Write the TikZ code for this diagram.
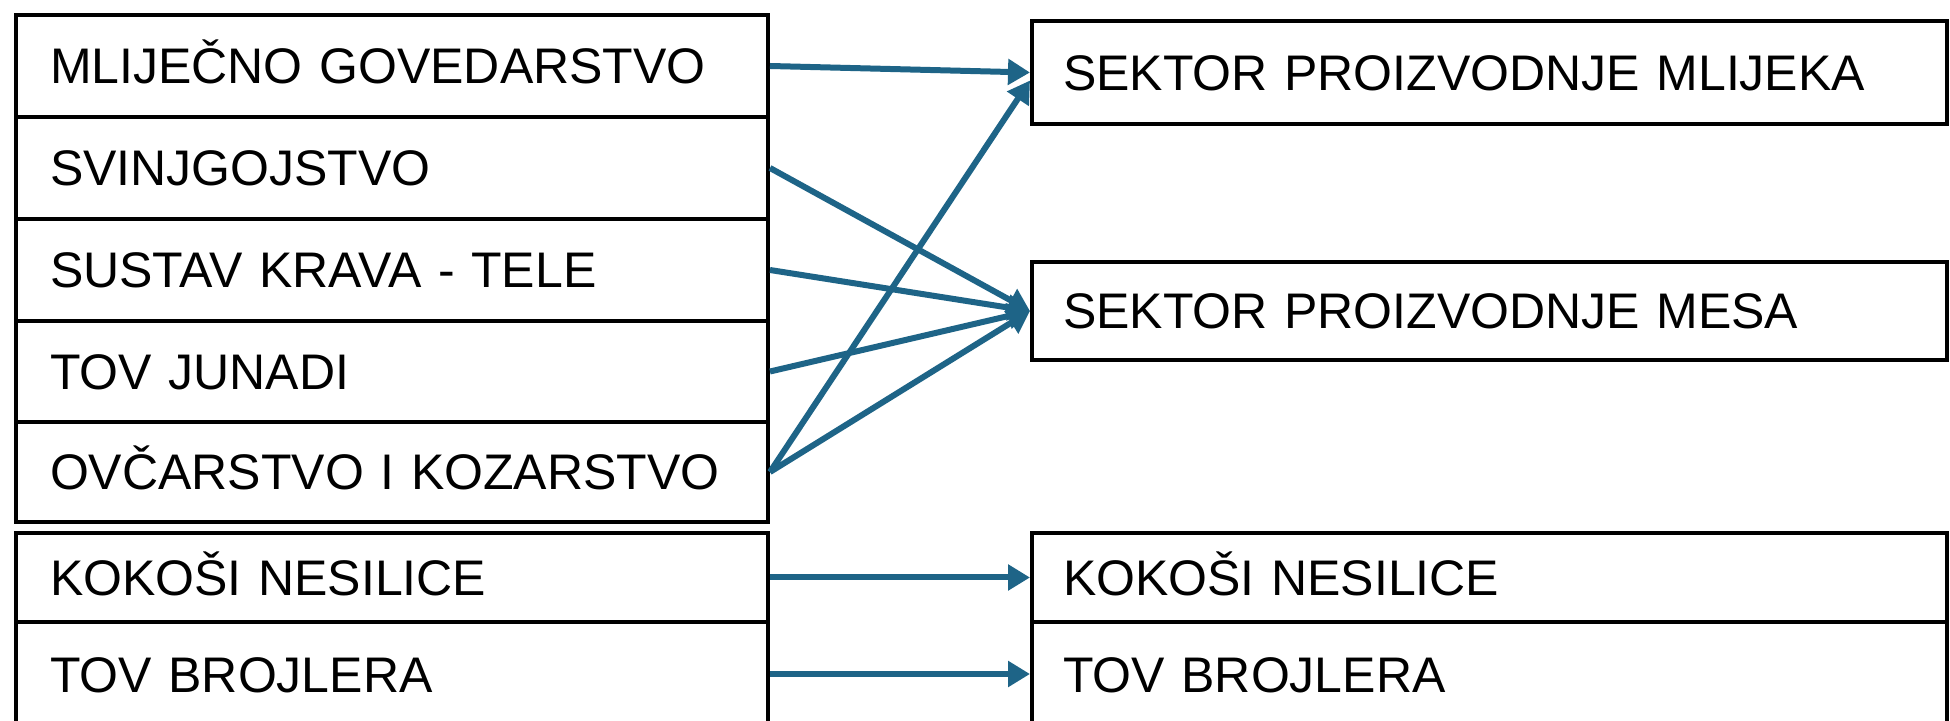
\documentclass[tikz,border=0pt]{standalone}
\usepackage{fontspec}
\setmainfont{Liberation Sans}
\usetikzlibrary{arrows.meta,calc}
\definecolor{flowblue}{RGB}{30,100,135}
\begin{document}
\begin{tikzpicture}[x=1pt,y=1pt,
  box/.style={draw=black, line width=4pt, rectangle, inner ysep=0pt,
    align=left, text height=36pt, text depth=0pt,
    font=\fontsize{50}{60}\selectfont},
  lbox/.style={box, inner xsep=34pt, text width=684pt, minimum width=752pt},
  rbox/.style={box, inner xsep=31pt, text width=853pt, minimum width=915pt},
  flow/.style={draw=flowblue, line width=6pt, -{Triangle[length=22pt,width=25pt]}}]
\useasboundingbox (0,0) rectangle (1950,720);
\fill[white] (0,0) rectangle (1950,720);
\clip (0,0) rectangle (1950,720);

\node[lbox, minimum height=102pt] (L1) at (392,654) {MLIJEČNO GOVEDARSTVO};
\node[lbox, minimum height=102pt] (L2) at (392,552) {SVINJGOJSTVO};
\node[lbox, minimum height=102pt] (L3) at (392,450) {SUSTAV KRAVA - TELE};
\node[lbox, minimum height=101pt] (L4) at (392,348.5) {TOV JUNADI};
\node[lbox, minimum height=100pt] (L5) at (392,248) {OVČARSTVO I KOZARSTVO};
\node[lbox, minimum height=89pt] (L6) at (392,142.5) {KOKOŠI NESILICE};
\node[lbox, minimum height=104pt] (L7) at (392,46) {TOV BROJLERA};

\node[rbox, minimum height=103pt] (R1) at (1489.5,647.5) {SEKTOR PROIZVODNJE MLIJEKA};
\node[rbox, minimum height=98pt] (R2) at (1489.5,409) {SEKTOR PROIZVODNJE MESA};
\node[rbox, minimum height=89pt] (R3) at (1489.5,142.5) {KOKOŠI NESILICE};
\node[rbox, minimum height=104pt] (R4) at (1489.5,46) {TOV BROJLERA};

\draw[flow] (L1.east) -- (R1.west);
\draw[flow] (L2.east) -- (R2.west);
\draw[flow] (L3.east) -- (R2.west);
\draw[flow] (L4.east) -- (R2.west);
\draw[flow] (L5.east) -- (R2.west);
\draw[flow] (L5.east) -- ($(R1.west)+(0,-8)$);
\draw[flow] (L6.east) -- (R3.west);
\draw[flow] (L7.east) -- (R4.west);
\end{tikzpicture}
\end{document}
